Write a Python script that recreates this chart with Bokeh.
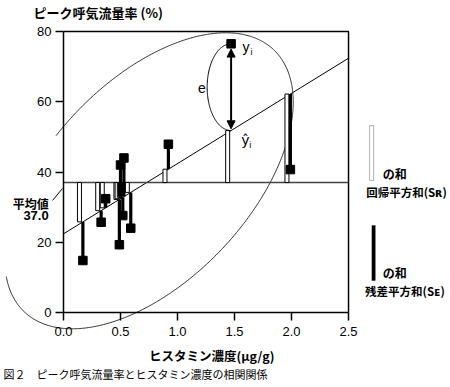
import numpy as np
from bokeh.plotting import figure
from bokeh.models import (Range1d, LinearAxis, FixedTicker, NumeralTickFormatter,
                          ColumnDataSource, Label, Arrow, NormalHead, BoxAnnotation)
from bokeh.transform import dodge
from bokeh.embed import file_html
from bokeh.resources import INLINE

# ---- data ----
histamine = [0.17, 0.33, 0.37, 0.49, 0.50, 0.52, 0.53, 0.59, 0.92, 1.47, 1.99]
pefr = [14.8, 25.7, 32.4, 19.3, 42.0, 27.6, 44.0, 24.0, 47.9, 76.5, 40.7]
mean_value = 37.0
intercept = 22.4
slope = 20.0
highlight = 9
x_ticks = [0.0, 0.5, 1.0, 1.5, 2.0, 2.5]
y_ticks = [0, 20, 40, 60, 80]

title_text = "ピーク呼気流量率 (%)"
x_label_text = "ヒスタミン濃度(μg/g)"
caption_text = "図２　ピーク呼気流量率とヒスタミン濃度の相関関係"

JP = "Noto Sans CJK JP"
JPX = "Noto Sans CJK JP, DejaVu Sans"
LAT = "Liberation Sans"

x_min, x_max = x_ticks[0], x_ticks[-1]
y_min, y_max = y_ticks[0], y_ticks[-1]

fitted = [intercept + slope * x for x in histamine]

p = figure(width=448, height=385,
           x_range=Range1d(-0.5526, 3.377), y_range=Range1d(-20.78, 88.83),
           x_axis_type=None, y_axis_type=None,
           toolbar_location=None, output_backend="svg", min_border=0)
p.outline_line_color = None
p.background_fill_color = "white"


def style_axis(ax):
    ax.axis_line_width = 1.5
    ax.axis_line_color = "black"
    ax.major_tick_out = 8
    ax.major_tick_in = 0
    ax.major_tick_line_width = 1.5
    ax.minor_tick_out = 0
    ax.minor_tick_in = 0
    ax.major_label_text_font = LAT
    ax.major_label_text_font_size = "13px"
    ax.major_label_text_color = "black"


yaxis = LinearAxis(fixed_location=0, bounds=(y_min, y_max), ticker=FixedTicker(ticks=y_ticks))
style_axis(yaxis)
yaxis.major_label_standoff = 4
p.add_layout(yaxis, "left")

xaxis = LinearAxis(fixed_location=0, bounds=(x_min, x_max), ticker=FixedTicker(ticks=x_ticks),
                   formatter=NumeralTickFormatter(format="0.0"))
style_axis(xaxis)
xaxis.major_label_standoff = 6
p.add_layout(xaxis, "below")

# frame top and right
p.line(x=[x_min, x_max, x_max], y=[y_max, y_max, y_min], line_color="black", line_width=1.5)

# large ellipse (open on the left)
t = np.radians(np.linspace(-202, 100, 500))
cx, cy = 0.75, 37.5
ux, uy = 1.094, 37.3
vx, vy = -0.635, 19.6
p.line(cx + ux * np.cos(t) + vx * np.sin(t), cy + uy * np.cos(t) + vy * np.sin(t),
       line_color="black", line_width=0.8)

# regression line and mean line
p.line(x=[x_min, x_max], y=[intercept + slope * x_min, intercept + slope * x_max],
       line_color="black", line_width=1)
p.line(x=[x_min, x_max], y=[mean_value, mean_value], line_color="#444444", line_width=1.6)

src = ColumnDataSource(dict(x=histamine, y=pefr, fit=fitted))
resid_idx = [i for i in range(len(histamine)) if i != highlight]
src_resid = ColumnDataSource(dict(x=[histamine[i] for i in resid_idx],
                                  y=[pefr[i] for i in resid_idx],
                                  fit=[fitted[i] for i in resid_idx]))

# open bars: mean -> fitted
p.vbar(x=dodge("x", -0.03, range=p.x_range), bottom=mean_value, top="fit", width=0.035,
       source=src, fill_color="white", line_color="black", line_width=1)
# black bars: fitted -> observed
p.segment(x0="x", y0="fit", x1="x", y1="y", source=src_resid, line_color="black", line_width=3.2)
# observed points
p.scatter(x="x", y="y", source=src, marker="square", size=8.5, fill_color="black", line_color="black")

# highlighted residual: double arrow and half ellipse "e"
hx, hy, hf = histamine[highlight], pefr[highlight], fitted[highlight]
p.add_layout(Arrow(start=NormalHead(size=8, fill_color="black", line_color="black"),
                   end=NormalHead(size=8, fill_color="black", line_color="black"),
                   x_start=hx, y_start=hf + 0.5, x_end=hx, y_end=hy - 1.5,
                   line_width=2, line_color="black"))
te = np.radians(np.linspace(90, 270, 120))
p.line(hx + 0.21 * np.cos(te), (hy + hf) / 2 + (hy - hf) / 2 * np.sin(te),
       line_color="black", line_width=1)

# legend marks
p.add_layout(BoxAnnotation(left=2.685, right=2.72, bottom=37.6, top=53.2,
                           fill_color="white", fill_alpha=1, line_color="black", line_width=1))
p.add_layout(BoxAnnotation(left=2.705, right=2.735, bottom=9.1, top=24.8,
                           fill_color="black", fill_alpha=1, line_color="black", line_width=1))

# leader from mean label
p.line(x=[-0.096, -0.009], y=[31.9, 35.3], line_color="black", line_width=1)


def lab(x, y, text, size, font=JP, bold=True, align="left", baseline="middle"):
    p.add_layout(Label(x=x, y=y, text=text, text_font=font, text_font_size=size,
                       text_font_style=("bold" if bold else "normal"), text_align=align,
                       text_baseline=baseline, text_color="black"))


lab(-0.263, 85.4, title_text, "13px")
lab(1.30, -12.2, x_label_text, "12.5px", align="center")
lab(-0.526, -17.4, caption_text, "11px", bold=False)
lab(-0.13, 31.0, "平均値", "12px", align="right")
lab(-0.13, 27.6, "37.0", "13px", font=LAT, align="right")
lab(1.18, 64.0, "e", "14px", font=LAT, bold=False)
lab(1.57, 75.5, "y", "14px", font=LAT, bold=False)
lab(1.64, 74.2, "i", "9px", font=LAT, bold=False)
lab(1.56, 49.0, "ŷ", "14px", font="DejaVu Sans", bold=False)
lab(1.63, 47.7, "i", "9px", font=LAT, bold=False)
lab(2.80, 39.6, "の和", "12px")
lab(2.655, 34.2, "回帰平方和(Sʀ)", "11.5px", font=JPX)
lab(2.80, 11.4, "の和", "12px")
lab(2.645, 6.0, "残差平方和(Sᴇ)", "11.5px", font=JPX)

open("out.html", "w").write(file_html(p, INLINE))
